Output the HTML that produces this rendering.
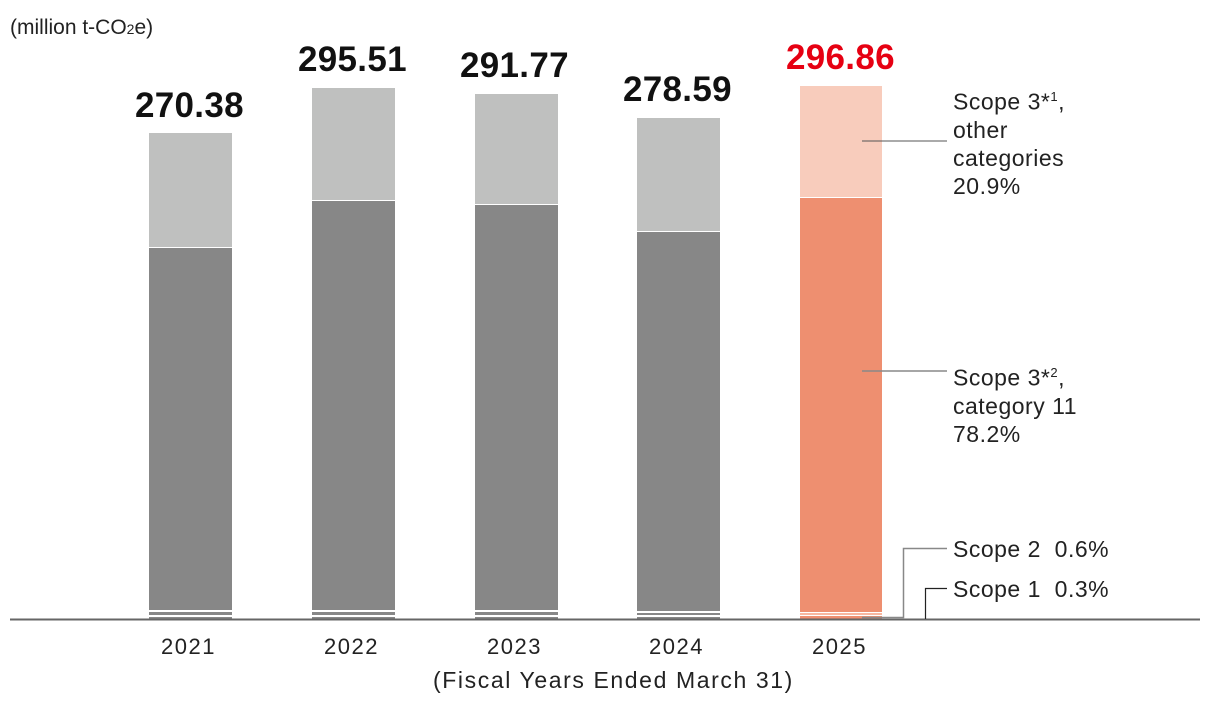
<!DOCTYPE html>
<html><head><style>
body{margin:0;width:1210px;height:710px;background:#fff;font-family:"Liberation Sans",sans-serif;position:relative;overflow:hidden}
.t{position:absolute;white-space:nowrap}
.v{font-weight:bold;font-size:35px;color:#111;letter-spacing:0.3px}
.x{font-size:22px;color:#222;letter-spacing:1.5px}
.l{font-size:23px;color:#222;line-height:28px;letter-spacing:0.5px}
</style></head><body>
<svg width="1210" height="710" style="position:absolute;left:0;top:0">
<g>
<rect x="149" y="133" width="83" height="114" fill="#bfc0bf"/><rect x="149" y="248" width="83" height="362" fill="#878787"/><rect x="149" y="612" width="83" height="3" fill="#878787"/><rect x="149" y="617" width="83" height="2" fill="#878787"/>
<rect x="312" y="88" width="83" height="112" fill="#bfc0bf"/><rect x="312" y="201" width="83" height="409" fill="#878787"/><rect x="312" y="612" width="83" height="3" fill="#878787"/><rect x="312" y="617" width="83" height="2" fill="#878787"/>
<rect x="475" y="94" width="83" height="110" fill="#bfc0bf"/><rect x="475" y="205" width="83" height="405" fill="#878787"/><rect x="475" y="612" width="83" height="3" fill="#878787"/><rect x="475" y="617" width="83" height="2" fill="#878787"/>
<rect x="637" y="118" width="83" height="113" fill="#bfc0bf"/><rect x="637" y="232" width="83" height="379" fill="#878787"/><rect x="637" y="613" width="83" height="2" fill="#878787"/><rect x="637" y="617" width="83" height="2" fill="#878787"/>
<rect x="800" y="86" width="82" height="111" fill="#f8ccbc"/><rect x="800" y="198" width="82" height="414" fill="#ee8f70"/><rect x="800" y="613" width="82" height="2" fill="#f8b7a0"/><rect x="800" y="616" width="82" height="3" fill="#ee8f70"/>
</g>
<line x1="10" y1="619.5" x2="1200" y2="619.5" stroke="#666" stroke-width="2"/>
<polyline points="862,141 947,141" fill="none" stroke="#555" stroke-width="1"/>
<polyline points="862,371 947,371" fill="none" stroke="#888" stroke-width="1.5"/>
<polyline points="862,617.5 903.5,617.5 903.5,548.5 947,548.5" fill="none" stroke="#888" stroke-width="1.5"/>
<polyline points="925.5,619 925.5,588.5 947,588.5" fill="none" stroke="#222" stroke-width="1.2"/>
</svg>
<div class="t" style="left:10px;top:16px;font-size:21px;color:#222">(million t-CO<span style="font-size:14px">2</span>e)</div>
<div class="t v" style="left:135px;top:86px">270.38</div>
<div class="t v" style="left:298px;top:40px">295.51</div>
<div class="t v" style="left:460px;top:46px">291.77</div>
<div class="t v" style="left:623px;top:70px">278.59</div>
<div class="t v" style="left:786px;top:38px;color:#e60012">296.86</div>
<div class="t x" style="left:161px;top:634px">2021</div>
<div class="t x" style="left:324px;top:634px">2022</div>
<div class="t x" style="left:487px;top:634px">2023</div>
<div class="t x" style="left:649px;top:634px">2024</div>
<div class="t x" style="left:812px;top:634px">2025</div>
<div class="t x" style="left:433px;top:667px;font-size:23px;letter-spacing:1.6px">(Fiscal Years Ended March 31)</div>
<div class="t l" style="left:953px;top:83px">Scope 3*<sup style="font-size:13px">1</sup>,<br>other<br>categories<br>20.9%</div>
<div class="t l" style="left:953px;top:359px">Scope 3*<sup style="font-size:13px">2</sup>,<br>category 11<br>78.2%</div>
<div class="t l" style="left:953px;top:535px">Scope 2&nbsp; 0.6%</div>
<div class="t l" style="left:953px;top:575px">Scope 1&nbsp; 0.3%</div>
</body></html>
